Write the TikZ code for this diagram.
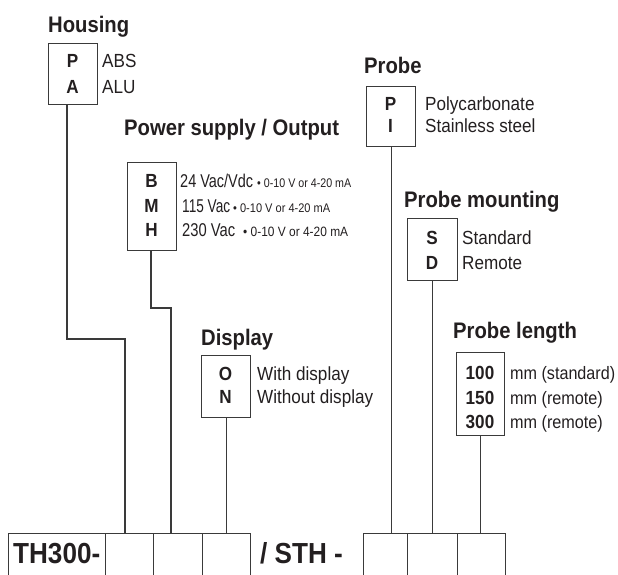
\documentclass[tikz,border=0pt]{standalone}
\usepackage{fontspec}
\setmainfont{Liberation Sans}[FakeStretch=0.9]
\usepackage{graphicx}
\definecolor{ink}{HTML}{231F20}
\definecolor{linec}{HTML}{3A3A3A}
\begin{document}
\begin{tikzpicture}[x=1pt,y=-1pt,
  optbox/.style={draw=linec, line width=1.2pt, rectangle, inner sep=0pt, anchor=north west},
  cell/.style={draw=linec, line width=1.2pt, rectangle, inner sep=0pt, anchor=north west, minimum height=80pt},
  title/.style={font=\bfseries\fontsize{22.5}{27}\selectfont, text=ink, inner sep=0pt, anchor=base west},
  code/.style={font=\bfseries\fontsize{19}{23}\selectfont, text=ink, inner sep=0pt, anchor=base},
  lbl/.style={font=\fontsize{19}{23}\selectfont, text=ink, inner sep=0pt, anchor=base west},
  lbls/.style={font=\fontsize{18}{22}\selectfont, text=ink, inner sep=0pt, anchor=base west},
  psl/.style={font=\fontsize{18.5}{22}\selectfont, text=ink, inner sep=0pt, anchor=base west},
  small/.style={font=\fontsize{12.5}{15}\selectfont, text=ink, inner sep=0pt, anchor=base west},
  big/.style={font=\bfseries\fontsize{29}{34}\selectfont, text=ink, inner sep=0pt, anchor=base west},
  conn/.style={draw=linec, line width=1.2pt}
]
\useasboundingbox (0,0) rectangle (618,574);

% ---------- Housing ----------
\node[title] (tH) at (48,32) {Housing};
\node[optbox, minimum width=49pt, minimum height=61pt] (hbox) at (48,43) {};
\node[code] (hP) at (72.5,67) {P};
\node[code] (hA) at (72.5,93) {A};
\node[lbl] (hABS) at (102,67) {ABS};
\node[lbl] (hALU) at (102,93) {ALU};

% ---------- Power supply / Output ----------
\node[title] (tP) at (124,135) {Power supply / Output};
\node[optbox, minimum width=49pt, minimum height=88pt] (pbox) at (127,162) {};
\node[code] (pB) at (151.5,187) {B};
\node[code] (pM) at (151.5,212) {M};
\node[code] (pH) at (151.5,236) {H};
\node[psl] (pB1) at (180,187) {\resizebox{73pt}{\height}{24 Vac/Vdc}};
\node[small] (pB2) at (257,187) {\resizebox{94pt}{\height}{• 0-10 V or 4-20 mA}};
\node[psl] (pM1) at (182,212) {\resizebox{48pt}{\height}{115 Vac}};
\node[small] (pM2) at (233,212) {\resizebox{97pt}{\height}{• 0-10 V or 4-20 mA}};
\node[psl] (pH1) at (182,236) {\resizebox{53pt}{\height}{230 Vac}};
\node[small, font=\fontsize{13.5}{16}\selectfont] (pH2) at (243,236) {\resizebox{105pt}{\height}{• 0-10 V or 4-20 mA}};

% ---------- Display ----------
\node[title] (tD) at (201,345) {Display};
\node[optbox, minimum width=49pt, minimum height=62pt] (dbox) at (201,355) {};
\node[code] (dO) at (225.5,380) {O};
\node[code] (dN) at (225.5,403) {N};
\node[lbl] (dO1) at (257,380) {With display};
\node[lbl] (dN1) at (257,403) {Without display};

% ---------- Probe ----------
\node[title] (tPr) at (364,73) {Probe};
\node[optbox, minimum width=49pt, minimum height=60pt] (prbox) at (366,86) {};
\node[code] (prP) at (390.5,110) {P};
\node[code] (prI) at (390.5,132) {I};
\node[lbl] (prP1) at (425,110) {Polycarbonate};
\node[lbl] (prI1) at (425,132) {Stainless steel};

% ---------- Probe mounting ----------
\node[title] (tPm) at (404,207) {Probe mounting};
\node[optbox, minimum width=50pt, minimum height=62pt] (pmbox) at (407,218) {};
\node[code] (pmS) at (432,244) {S};
\node[code] (pmD) at (432,269) {D};
\node[lbl] (pmS1) at (462,244) {Standard};
\node[lbl] (pmD1) at (462,269) {Remote};

% ---------- Probe length ----------
\node[title] (tPl) at (453,338) {Probe length};
\node[optbox, minimum width=48pt, minimum height=83pt] (plbox) at (456,352) {};
\node[code] (pl1) at (480,379) {100};
\node[code] (pl2) at (480,404) {150};
\node[code] (pl3) at (480,428) {300};
\node[lbls] (pl1t) at (510,379) {\resizebox{105pt}{\height}{mm (standard)}};
\node[lbls] (pl2t) at (510,404) {mm (remote)};
\node[lbls] (pl3t) at (510,428) {mm (remote)};

% ---------- Bottom code ----------
\node[cell, minimum width=97pt] (c0) at (8,533) {};
\node[cell, minimum width=48pt] (c1) at (105,533) {};
\node[cell, minimum width=49pt] (c2) at (153,533) {};
\node[cell, minimum width=48pt] (c3) at (202,533) {};
\node[cell, minimum width=44pt] (c5) at (363,533) {};
\node[cell, minimum width=50pt] (c6) at (407,533) {};
\node[cell, minimum width=48pt] (c7) at (457,533) {};
\node[big] (th) at (13,563) {TH300-};
\node[big] (sth) at (260,563) {/ STH -};

% ---------- Connectors ----------
\coordinate (h1) at (67,339);
\coordinate (h2) at (125,533);
\draw[conn] (hbox.south -| h1) -- (h1) -| (h2);
\coordinate (p1) at (151,308);
\coordinate (p2) at (171,533);
\draw[conn] (pbox.south -| p1) -- (p1) -| (p2);
\draw[conn] (dbox.south) -- (dbox.south |- c3.north);
\draw[conn] (prbox.south) -- (prbox.south |- c5.north);
\draw[conn] (pmbox.south) -- (pmbox.south |- c6.north);
\draw[conn] (plbox.south) -- (plbox.south |- c7.north);
\end{tikzpicture}
\end{document}
